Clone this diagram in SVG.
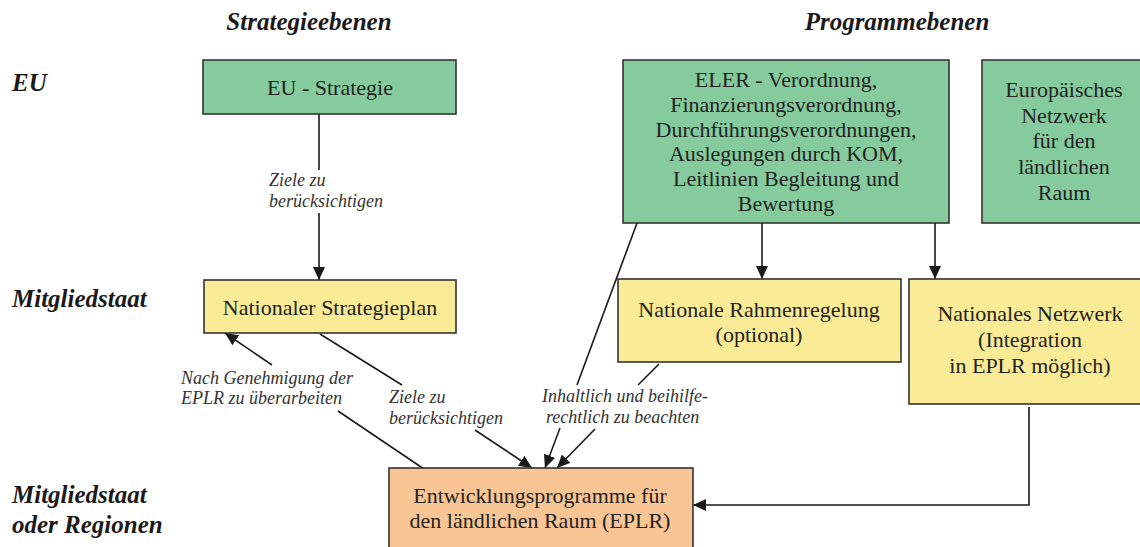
<svg xmlns="http://www.w3.org/2000/svg" width="1140" height="547" viewBox="0 0 1140 547">
<defs>
<marker id="arr" markerUnits="userSpaceOnUse" markerWidth="14" markerHeight="12" refX="13" refY="6" orient="auto">
<path d="M0,0 L13,6 L0,12 Z" fill="#1a1a1a"/>
</marker>
<style>
.box{stroke:#333;stroke-width:1.6}
.g{fill:#85CB9D}
.y{fill:#FAEB96}
.o{fill:#F9C595}
text{font-family:'Liberation Serif','Times New Roman',Tinos,'DejaVu Serif',serif}
.bt{font-size:22px;fill:#232323;text-anchor:middle}
.lv{font-size:25px;font-weight:bold;font-style:italic;fill:#1a1a1a}
.el{font-size:18px;font-style:italic;fill:#333}
.c{fill:none;stroke:#1a1a1a;stroke-width:1.6}
</style>
</defs>
<rect width="1140" height="547" fill="#fff"/>

<g id="headers" font-family="Liberation Serif, serif">
<text class="lv" x="309" y="30" text-anchor="middle">Strategieebenen</text>
<text class="lv" x="897" y="30" text-anchor="middle">Programmebenen</text>
<text class="lv" x="12" y="91">EU</text>
<text class="lv" x="12" y="307">Mitgliedstaat</text>
<text class="lv" x="12" y="503">Mitgliedstaat</text>
<text class="lv" x="12" y="533">oder Regionen</text>
</g>

<g id="connectors" font-family="Liberation Serif, serif">
<line class="c" x1="319" y1="114" x2="319" y2="170"/>
<line class="c" x1="319" y1="213" x2="319" y2="280" marker-end="url(#arr)"/>
<line class="c" x1="762" y1="223" x2="762" y2="279" marker-end="url(#arr)"/>
<line class="c" x1="935" y1="223" x2="935" y2="279" marker-end="url(#arr)"/>
<line class="c" x1="637" y1="223" x2="577" y2="385"/>
<line class="c" x1="560" y1="428" x2="545" y2="468" marker-end="url(#arr)"/>
<line class="c" x1="659" y1="364" x2="638" y2="385"/>
<line class="c" x1="595" y1="429" x2="557" y2="468" marker-end="url(#arr)"/>
<line class="c" x1="320" y1="334" x2="402" y2="385"/>
<line class="c" x1="475" y1="430" x2="532" y2="468" marker-end="url(#arr)"/>
<line class="c" x1="424" y1="469" x2="338" y2="411"/>
<line class="c" x1="272" y1="365" x2="225" y2="333" marker-end="url(#arr)"/>
<polyline class="c" points="1029,407 1029,505 693,505" marker-end="url(#arr)"/>
<text class="el" x="269" y="186">Ziele zu</text>
<text class="el" x="269" y="207">berücksichtigen</text>
<text class="el" x="181" y="384">Nach Genehmigung der</text>
<text class="el" x="181" y="404">EPLR zu überarbeiten</text>
<text class="el" x="389" y="403">Ziele zu</text>
<text class="el" x="389" y="424">berücksichtigen</text>
<text class="el" x="542" y="402">Inhaltlich und beihilfe-</text>
<text class="el" x="546" y="423">rechtlich zu beachten</text>
</g>

<g id="eu-strategie" font-family="Liberation Serif, serif">
<rect class="box g" x="203" y="60" width="253" height="54"/>
<text class="bt" x="330" y="95">EU - Strategie</text>
</g>

<g id="eler" font-family="Liberation Serif, serif">
<rect class="box g" x="623" y="60" width="326" height="163"/>
<text class="bt" x="786" y="87">ELER - Verordnung,</text>
<text class="bt" x="786" y="112">Finanzierungsverordnung,</text>
<text class="bt" x="786" y="137">Durchführungsverordnungen,</text>
<text class="bt" x="786" y="161">Auslegungen durch KOM,</text>
<text class="bt" x="786" y="186">Leitlinien Begleitung und</text>
<text class="bt" x="786" y="211">Bewertung</text>
</g>

<g id="europaeisches-netzwerk" font-family="Liberation Serif, serif">
<rect class="box g" x="982" y="60" width="166" height="163"/>
<text class="bt" x="1064" y="97">Europäisches</text>
<text class="bt" x="1064" y="123">Netzwerk</text>
<text class="bt" x="1064" y="148">für den</text>
<text class="bt" x="1064" y="174">ländlichen</text>
<text class="bt" x="1064" y="200">Raum</text>
</g>

<g id="nationaler-strategieplan" font-family="Liberation Serif, serif">
<rect class="box y" x="204" y="280" width="252" height="53"/>
<text class="bt" x="330" y="315">Nationaler Strategieplan</text>
</g>

<g id="nationale-rahmenregelung" font-family="Liberation Serif, serif">
<rect class="box y" x="618" y="279" width="283" height="83"/>
<text class="bt" x="759" y="317">Nationale Rahmenregelung</text>
<text class="bt" x="759" y="342">(optional)</text>
</g>

<g id="nationales-netzwerk" font-family="Liberation Serif, serif">
<rect class="box y" x="909" y="279" width="242" height="125"/>
<text class="bt" x="1030" y="321">Nationales Netzwerk</text>
<text class="bt" x="1030" y="347">(Integration</text>
<text class="bt" x="1030" y="373">in EPLR möglich)</text>
</g>

<g id="eplr" font-family="Liberation Serif, serif">
<rect class="box o" x="389" y="468" width="304" height="90"/>
<text class="bt" x="540" y="503">Entwicklungsprogramme für</text>
<text class="bt" x="540" y="528">den ländlichen Raum (EPLR)</text>
</g>
</svg>
